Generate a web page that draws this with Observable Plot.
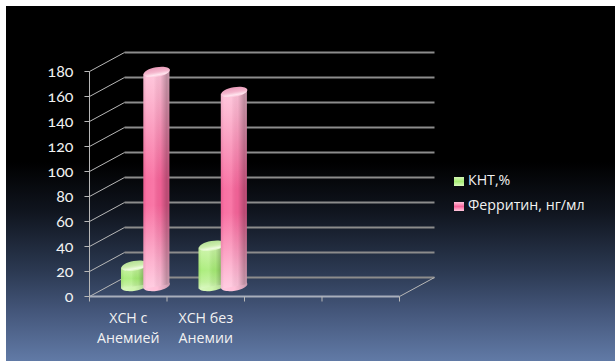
<!DOCTYPE html>
<html>
<head>
<meta charset="utf-8">
<script src="https://cdn.jsdelivr.net/npm/d3@7"></script>
<script src="https://cdn.jsdelivr.net/npm/@observablehq/plot@0.6"></script>
<style>
  html, body { margin: 0; padding: 0; background: #fff; }
  #stage { position: relative; width: 615px; height: 362px; overflow: hidden; }
  #panel {
    position: absolute; left: 6px; top: 6px; width: 609px; height: 355px;
    background: linear-gradient(to bottom, #000 0, #000 44%, #10151f 58%, #2c3a53 75%, #44567a 86%, #617aa6 100%);
  }
  #stage svg { position: absolute; left: 0; top: 0; background: transparent; overflow: visible; }
  #stage svg text { font-feature-settings: "onum" 1; }
  .legend { position: absolute; left: 454px; color: #f2f2f2; font: 14.2px "Open Sans", sans-serif; line-height: 20px; white-space: nowrap; }
  .legend i { display: inline-block; width: 10px; height: 9px; margin-right: 4px; vertical-align: -0.5px; }
</style>
</head>
<body>
<div id="stage"><div id="panel"></div></div>
<script>
// Two measures for each group; the last two category slots are empty.
const categories = ["ХСН с\nАнемией", "ХСН без\nАнемии", "", ""];
const seriesNames = ["КНТ,%", "Ферритин, нг/мл"];
const kntValues = [17, 33];
const ferritinValues = [172, 156];
const yTicks = [0, 20, 40, 60, 80, 100, 120, 140, 160, 180];

// Depth of the pseudo-3D box, in data units of each scale.
const depthX = 0.4516;
const depthY = 15.2;
const tickLen = 0.065;
const seriesOffset = [0.355, 0.643];
const barHalf = 0.168;
const tilt = 1.8;

const rows = [
  ...kntValues.map((value, i) => ({i, value, s: 0})),
  ...ferritinValues.map((value, i) => ({i, value, s: 1}))
];
const cx = d => d.i + seriesOffset[d.s] + depthX / 2;
const baseY = depthY / 2;

// Flattened circle used for the cylinder caps and bases.
const capSymbol = {
  draw(ctx, size) {
    const rx = Math.sqrt(size / Math.PI), ry = rx * 0.36, k = 0.5523;
    ctx.moveTo(-rx, 0);
    ctx.bezierCurveTo(-rx, -ry * k, -rx * k, -ry, 0, -ry);
    ctx.bezierCurveTo(rx * k, -ry, rx, -ry * k, rx, 0);
    ctx.bezierCurveTo(rx, ry * k, rx * k, ry, 0, ry);
    ctx.bezierCurveTo(-rx * k, ry, -rx, ry * k, -rx, 0);
    ctx.closePath();
  }
};

function gradientDefs() {
  const svgNS = "http://www.w3.org/2000/svg";
  const defs = document.createElementNS(svgNS, "defs");
  const make = (id, vertical, stops) => {
    const g = document.createElementNS(svgNS, "linearGradient");
    g.setAttribute("id", id);
    g.setAttribute("x1", 0); g.setAttribute("y1", 0);
    g.setAttribute("x2", vertical ? 0 : 1); g.setAttribute("y2", vertical ? 1 : 0);
    for (const [offset, color, opacity] of stops) {
      const s = document.createElementNS(svgNS, "stop");
      s.setAttribute("offset", offset);
      s.setAttribute("stop-color", color);
      s.setAttribute("stop-opacity", opacity ?? 1);
      g.appendChild(s);
    }
    defs.appendChild(g);
  };
  make("pinkBody", true, [[0, "#ffc3da"], [0.12, "#fdb0cc"], [0.5, "#f8659b"], [0.62, "#f8659b"], [0.88, "#fdaccb"], [1, "#ffc8de"]]);
  make("greenBody", true, [[0, "#d4f6b4"], [0.2, "#c2f29a"], [0.6, "#a6ec74"], [0.85, "#bcf094"], [1, "#d8f8bd"]]);
  make("sheen", false, [[0, "#000", 0.05], [0.12, "#fff", 0.08], [0.4, "#fff", 0.12], [0.65, "#000", 0.04], [0.9, "#000", 0.26], [1, "#000", 0.2]]);
  make("pinkCap", true, [[0, "#e89ab8"], [0.5, "#f5b6cd"], [0.8, "#ffe4ee"], [1, "#fbc4d8"]]);
  make("greenCap", true, [[0, "#b4e094"], [0.5, "#cdeeae"], [0.8, "#effce0"], [1, "#d4f6b4"]]);
  make("pinkBase", false, [[0, "#ffc8de"], [0.5, "#ffc0d8"], [1, "#c79aad"]]);
  make("greenBase", false, [[0, "#d8f8bd"], [0.5, "#cff5ae"], [1, "#a8cf8c"]]);
  return defs;
}

// A cylinder: sheared body, rounded base below it and a lit cap on top.
const cylinderMarks = s => {
  const data = rows.filter(d => d.s === s);
  const body = s === 0 ? "green" : "pink";
  const common = {x: cx, symbol: capSymbol, r: 13.2, rotate: -10};
  const edges = data.flatMap(d => [
    {x: cx(d) - barHalf, y1: baseY - tilt, y2: d.value + baseY - tilt, z: d.i},
    {x: cx(d) + barHalf, y1: baseY + tilt, y2: d.value + baseY + tilt, z: d.i}
  ]);
  const area = {x1: "x", y1: "y1", y2: "y2", z: "z"};
  return [
    Plot.dot(data, {...common, y: baseY, dy: -1, fill: `url(#${body}Base)`}),
    Plot.area(edges, {...area, fill: `url(#${body}Body)`}),
    Plot.area(edges, {...area, fill: "url(#sheen)"}),
    Plot.dot(data, {...common, y: d => d.value + baseY, fill: `url(#${body}Cap)`})
  ];
};

const numberFont = {fill: "#f2f2f2", fontSize: 16, fontFamily: "Lato, sans-serif"};
const labelFont = {fill: "#f2f2f2", fontSize: 14.2, fontFamily: "'Open Sans', sans-serif"};

const chart = Plot.plot({
  width: 615,
  height: 362,
  marginLeft: 89,
  marginRight: 216,
  marginTop: 71,
  marginBottom: 66,
  x: {type: "linear", domain: [0, categories.length], axis: null},
  y: {domain: [0, 180], axis: null},
  style: {background: "transparent", overflow: "visible"},
  marks: [
    gradientDefs,
    // back wall gridlines
    Plot.link(yTicks, {x1: depthX, x2: categories.length + depthX, y1: d => d + depthY, y2: d => d + depthY, stroke: "#8c8c8c", strokeWidth: 1.8}),
    // side wall diagonals
    Plot.link(yTicks, {x1: 0, x2: depthX, y1: d => d, y2: d => d + depthY, stroke: "#b8b8b8", strokeWidth: 1}),
    // floor
    Plot.link([0], {x1: categories.length, x2: categories.length + depthX, y1: 0, y2: depthY, stroke: "#b8b8b8", strokeWidth: 1}),
    Plot.link([0], {x1: 0, x2: categories.length, y1: 0, y2: 0, stroke: "#a8aebb", strokeWidth: 1.8}),
    Plot.link([0], {x1: 0, x2: 0, y1: 0, y2: 180, stroke: "#b8b8b8", strokeWidth: 1}),
    // tick marks on the value and category axes
    Plot.link(yTicks, {x1: -tickLen, x2: 0, y1: d => d, y2: d => d, stroke: "#b8b8b8", strokeWidth: 1}),
    Plot.link(d3.range(categories.length + 1), {x1: d => d, x2: d => d, y1: 0, y2: -4, stroke: "#b8b8b8", strokeWidth: 1}),
    Plot.text(yTicks, {x: 0, y: d => d, text: d => String(d), textAnchor: "end", dx: -16, ...numberFont}),
    Plot.text(categories, {x: (d, i) => i + 0.5, y: 0, text: d => d, dy: 30, lineHeight: 1.43, ...labelFont}),
    ...cylinderMarks(0),
    ...cylinderMarks(1)
  ]
});
document.getElementById("stage").appendChild(chart);

// Legend beside the plot
const stage = document.getElementById("stage");
const swatchColors = ["linear-gradient(#d4f6b4, #a6ec74 50%, #d8f8bd)", "linear-gradient(#ffc3da, #f8659b 50%, #ffc8de)"];
seriesNames.forEach((name, i) => {
  const row = document.createElement("div");
  row.className = "legend";
  row.style.top = (170 + i * 25) + "px";
  const sw = document.createElement("i");
  sw.style.background = swatchColors[i];
  row.appendChild(sw);
  row.appendChild(document.createTextNode(name));
  stage.appendChild(row);
});
</script>
</body>
</html>
